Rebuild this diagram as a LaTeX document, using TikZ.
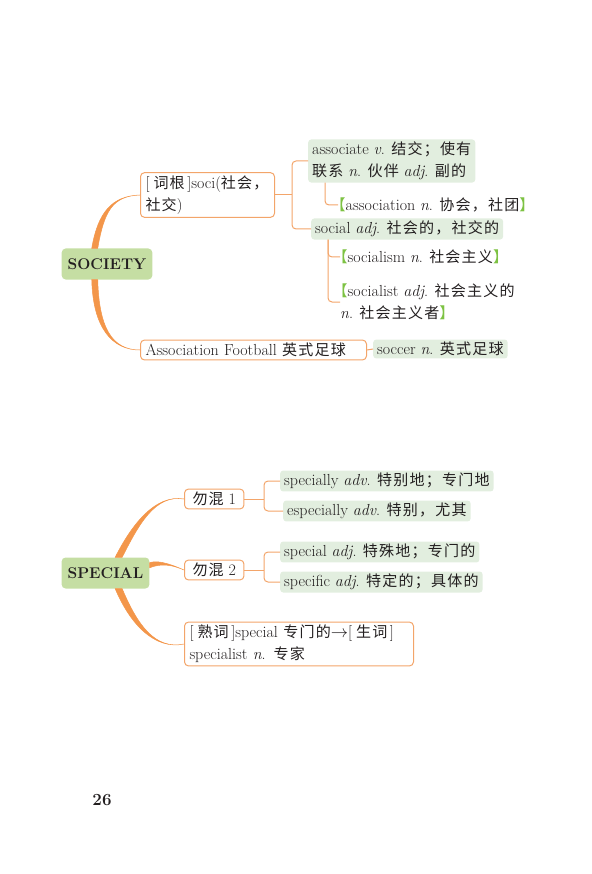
\documentclass[tikz,border=0pt]{standalone}
\usepackage{fontspec}
\newfontfamily\cjk[Scale=0.94, LetterSpace=8]{Noto Sans CJK SC}
\usetikzlibrary{calc}
\definecolor{lineOrange}{HTML}{F3A56A}
\definecolor{branchOrange}{HTML}{F3964A}
\definecolor{headGreen}{HTML}{C5DEA3}
\definecolor{boxGreen}{HTML}{E2EEDF}
\definecolor{markGreen}{HTML}{7DC243}
\definecolor{inkGrey}{HTML}{231F20}
\newcommand\zh[1]{{\cjk #1}}
\newcommand\lbk{\kern-7.5pt\textcolor{markGreen}{\zh{【}}}
\newcommand\rbk{\textcolor{markGreen}{\zh{】}}\kern-7.5pt}
\newcommand\sqb[1]{[\kern4pt\zh{#1}\kern2.5pt]}
% tapered branch: start, control 1, control 2, end, half width at start
\newcommand\taper[5]{%
  \filldraw[branch] ($(#1)+(#5)$) .. controls ($(#2)+(#5)$) and (#3) .. (#4)
    .. controls (#3) and ($(#2)-(#5)$) .. ($(#1)-(#5)$) -- cycle;}
\tikzset{
  head/.style={fill=headGreen, rounded corners=4pt, inner xsep=6pt,
    minimum height=31pt, font=\fontsize{15.5}{18}\selectfont\bfseries},
  wordbox/.style={draw=lineOrange, fill=white, line width=1pt,
    rounded corners=4pt, inner xsep=5pt, inner ysep=3pt, align=left, anchor=west},
  glossbox/.style={fill=boxGreen, rounded corners=3pt, inner xsep=4pt,
    inner ysep=2.5pt, align=left, anchor=west},
  plain/.style={inner sep=0pt, align=left, anchor=west},
  bracket/.style={draw=lineOrange, line width=1pt, rounded corners=4pt},
  branch/.style={fill=branchOrange, draw=branchOrange, line width=0.5pt},
}
\begin{document}
\begin{tikzpicture}[x=1pt, y=-1pt, every node/.style={text=inkGrey},
  font=\fontsize{16}{22}\selectfont]
  \useasboundingbox (0,0) rectangle (591,874);

  % SOCIETY
  \node[head] (society) at (107,264) {SOCIETY};
  \node[wordbox, text width=124pt] (soci) at (140,195) {\sqb{词根}soci(\zh{社会，}\\\zh{社交})};
  \node[wordbox, text width=216pt] (football) at (140,350) {Association Football \zh{英式足球}};
  \node[glossbox] (soccer) at (373,349) {soccer \textit{n}. \zh{英式足球}};
  \node[glossbox] (assoc) at (308,161) {associate \textit{v}. \zh{结交；使有}\\\zh{联系} \textit{n}. \zh{伙伴} \textit{adj}. \zh{副的}};
  \node[plain] (assn) at (338,205) {\lbk association \textit{n}. \zh{协会，社团}\rbk};
  \node[glossbox] (social) at (311,229) {social \textit{adj}. \zh{社会的，社交的}};
  \node[plain] (socialism) at (340,257) {\lbk socialism \textit{n}. \zh{社会主义}\rbk};
  \node[plain] (socialist) at (340,302) {\lbk socialist \textit{adj}. \zh{社会主义的}\\\textit{n}. \zh{社会主义者}\rbk};

  \taper{society.128}{101,212}{112,196}{soci.west}{3,0}
  \taper{society.232}{96,328}{112,350}{football.west}{3,0}
  \coordinate (j1) at (292,195);
  \draw[bracket] (soci.east) -- (j1);
  \draw[bracket] (assoc.west) -| (j1) |- (social.west);
  \draw[bracket] ($(assoc.south west)+(17,0)$) |- (assn.west);
  \draw[bracket] ($(social.south west)+(17,0)$) |- (socialist.west);
  \draw[bracket] ($(social.south west)+(17,0)$) |- (socialism.west);
  \draw[bracket] (football.east) -- (soccer.west);

  % SPECIAL
  \node[head] (special) at (105.5,573) {SPECIAL};
  \node[wordbox, inner xsep=8pt] (mix1) at (184,499) {\zh{勿混} 1};
  \node[wordbox, inner xsep=8pt] (mix2) at (184,570) {\zh{勿混} 2};
  \node[wordbox, text width=219pt] (shuci) at (184,644) {\sqb{熟词}special \zh{专门的}$\rightarrow$\sqb{生词}\\specialist \textit{n}. \zh{专家}};
  \node[glossbox] (specially) at (280,481) {specially \textit{adv}. \zh{特别地；专门地}};
  \node[glossbox] (especially) at (283,511) {especially \textit{adv}. \zh{特别，尤其}};
  \node[glossbox] (specialadj) at (280,552) {special \textit{adj}. \zh{特殊地；专门的}};
  \node[glossbox] (specific) at (280,582) {specific \textit{adj}. \zh{特定的；具体的}};

  \taper{special.50}{135,525}{155,494}{mix1.west}{3.5,0}
  \taper{special.10}{156,563}{166,562}{mix2.west}{0,2.5}
  \taper{special.310}{134,625}{155,650}{shuci.west}{3.5,0}
  \coordinate (j2) at (264,499);
  \draw[bracket] (mix1.east) -- (j2);
  \draw[bracket] (specially.west) -| (j2) |- (especially.west);
  \coordinate (j3) at (264,570);
  \draw[bracket] (mix2.east) -- (j3);
  \draw[bracket] (specialadj.west) -| (j3) |- (specific.west);

  \node[font=\fontsize{17}{20}\selectfont\bfseries] (page) at (102,800) {26};
\end{tikzpicture}
\end{document}
